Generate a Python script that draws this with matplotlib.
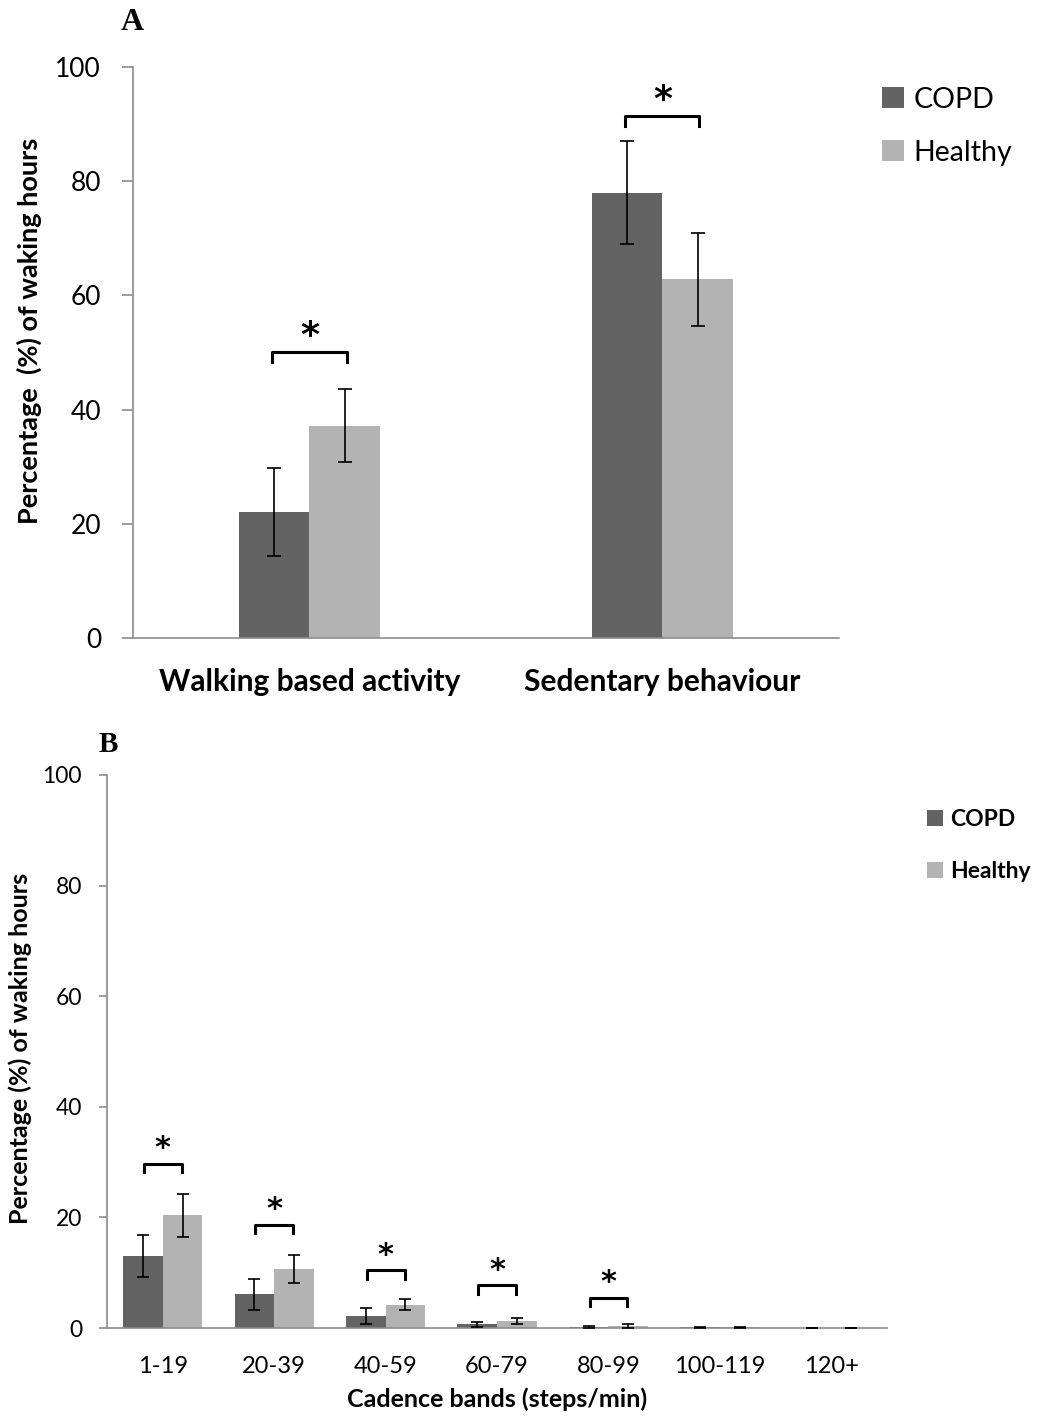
import numpy as np
import matplotlib
matplotlib.use("Agg")
import matplotlib.pyplot as plt

plt.rcParams['font.family'] = ['Lato', 'DejaVu Sans']

# panel A data
groups_a = ['Walking based activity', 'Sedentary behaviour']
copd_a = [22.0, 78.0]
copd_a_err = [7.7, 9.0]
healthy_a = [37.2, 62.8]
healthy_a_err = [6.4, 8.1]
bracket_a = [50.0, 91.4]

# panel B data
bands = ['1-19', '20-39', '40-59', '60-79', '80-99', '100-119', '120+']
copd_b = [13.0, 6.1, 2.2, 0.65, 0.2, 0.1, 0.05]
copd_b_err = [3.8, 2.8, 1.4, 0.5, 0.2, 0.05, 0.02]
healthy_b = [20.4, 10.7, 4.2, 1.3, 0.35, 0.1, 0.05]
healthy_b_err = [3.9, 2.5, 1.0, 0.5, 0.3, 0.1, 0.02]
bracket_b = [29.7, 18.7, 10.4, 7.7, 5.5]

dark = '#636363'
light = '#b3b3b3'
axis_col = '#8c8c8c'

fig = plt.figure(figsize=(10.42, 14.17), dpi=100)
ax1 = fig.add_axes([0.1276, 0.5498, 0.6775, 0.403])
ax2 = fig.add_axes([0.1027, 0.0628, 0.7486, 0.3903])


def style(ax, ticklen):
    for s in ['top', 'right']:
        ax.spines[s].set_visible(False)
    for s in ['left', 'bottom']:
        ax.spines[s].set_color(axis_col)
        ax.spines[s].set_linewidth(1.2)
    ax.tick_params(axis='y', direction='out', length=ticklen, color=axis_col, width=1.2)
    ax.tick_params(axis='x', length=0)
    ax.set_ylim(0, 100)
    ax.set_yticks(range(0, 101, 20))


def brackets(ax, centers, heights, half, drop, star_off, star_size):
    for x, h in zip(centers, heights):
        ax.plot([x - half, x - half, x + half, x + half], [h - drop, h, h, h - drop],
                color='black', lw=2.2, solid_joinstyle='round', clip_on=False)
        ax.text(x, h + star_off, '*', ha='center', va='center', fontsize=star_size,
                fontweight='bold', family='DejaVu Sans')


# --- panel A ---
x = np.arange(len(groups_a))
w = 0.2
ax1.bar(x - w / 2, copd_a, w, color=dark, label='COPD', zorder=2)
ax1.bar(x + w / 2, healthy_a, w, color=light, label='Healthy', zorder=2)
ax1.errorbar(x - w / 2, copd_a, yerr=copd_a_err, fmt='none', ecolor='black',
             elinewidth=1.2, capsize=5, capthick=1.2, zorder=3)
ax1.errorbar(x + w / 2, healthy_a, yerr=healthy_a_err, fmt='none', ecolor='black',
             elinewidth=1.2, capsize=5, capthick=1.2, zorder=3)
ax1.set_xlim(-0.5, 1.5)
style(ax1, 8)
ax1.set_xticks(x)
ax1.set_xticklabels(groups_a, fontsize=21.5, fontweight='bold')
ax1.tick_params(axis='x', pad=22)
ax1.tick_params(axis='y', labelsize=19, pad=15)
ax1.set_ylabel('Percentage  (%) of waking hours', fontsize=19.5, fontweight='bold')
ax1.yaxis.set_label_coords(-0.129, 0.538)
brackets(ax1, x, bracket_a, 0.105, 1.7, 2.8, 26)
ax1.legend(loc='upper left', bbox_to_anchor=(1.025, 1.01), frameon=False, fontsize=20.5,
           handlelength=0.75, handleheight=0.75, handletextpad=0.35, labelspacing=0.95)
fig.text(132 / 1042, 1 - 22 / 1417, 'A', family='Liberation Serif', fontweight='bold',
         fontsize=23, ha='center', va='center')

# --- panel B ---
xb = np.arange(len(bands))
wb = 0.355
ax2.bar(xb - wb / 2, copd_b, wb, color=dark, label='COPD', zorder=2)
ax2.bar(xb + wb / 2, healthy_b, wb, color=light, label='Healthy', zorder=2)
ax2.errorbar(xb - wb / 2, copd_b, yerr=copd_b_err, fmt='none', ecolor='black',
             elinewidth=1.2, capsize=4, capthick=1.2, zorder=3)
ax2.errorbar(xb + wb / 2, healthy_b, yerr=healthy_b_err, fmt='none', ecolor='black',
             elinewidth=1.2, capsize=4, capthick=1.2, zorder=3)
ax2.set_xlim(-0.5, len(bands) - 0.5)
style(ax2, 6)
ax2.set_xticks(xb)
ax2.set_xticklabels(bands, fontsize=17)
ax2.tick_params(axis='x', pad=20)
ax2.tick_params(axis='y', labelsize=16.5, pad=12)
ax2.set_ylabel('Percentage (%) of waking hours', fontsize=18, fontweight='bold')
ax2.yaxis.set_label_coords(-0.096, 0.505)
ax2.set_xlabel('Cadence bands (steps/min)', fontsize=18, fontweight='bold', labelpad=8)
brackets(ax2, xb[:len(bracket_b)], bracket_b, 0.17, 1.5, 2.7, 22)
ax2.legend(loc='upper left', bbox_to_anchor=(1.025, 0.975), frameon=False,
           prop={'weight': 'bold', 'size': 16.5},
           handlelength=0.7, handleheight=0.7, handletextpad=0.3, labelspacing=1.35)
fig.text(108 / 1042, 1 - 745 / 1417, 'B', family='Liberation Serif', fontweight='bold',
         fontsize=21, ha='center', va='center')

fig.savefig('out.png', dpi=100)
